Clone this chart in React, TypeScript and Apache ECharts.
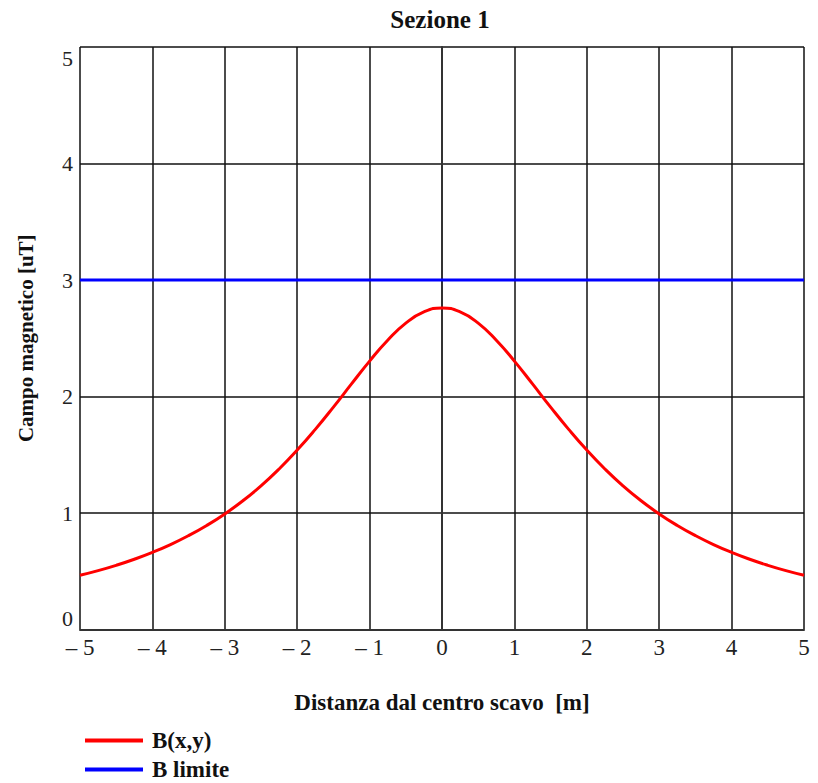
import React, { useEffect, useRef } from "react";
import * as echarts from "echarts";

const xValues = [
  -5, -4.75, -4.5, -4.25, -4, -3.75, -3.5, -3.25, -3, -2.75, -2.5, -2.25, -2, -1.75, -1.5, -1.25, -1, -0.75, -0.5, -0.25,
  0, 0.25, 0.5, 0.75, 1, 1.25, 1.5, 1.75, 2, 2.25, 2.5, 2.75, 3, 3.25, 3.5, 3.75, 4, 4.25, 4.5, 4.75, 5,
];
const bValues = [
  0.465, 0.505, 0.551, 0.603, 0.662, 0.729, 0.806, 0.893, 0.992, 1.105, 1.233, 1.378, 1.54, 1.718, 1.909, 2.108, 2.304, 2.483, 2.63, 2.726,
  2.76, 2.726, 2.63, 2.483, 2.304, 2.108, 1.909, 1.718, 1.54, 1.378, 1.233, 1.105, 0.992, 0.893, 0.806, 0.729, 0.662, 0.603, 0.551, 0.505, 0.465,
];
const limitX = [-5, 5];
const limitValues = [3, 3];

const titleText = "Sezione 1";
const xName = "Distanza dal centro scavo  [m]";
const yName = "Campo magnetico [uT]";
const seriesNames = ["B(x,y)", "B limite"];

const FONT = "'Liberation Serif', 'DejaVu Serif', serif";

export default function App() {
  const ref = useRef<HTMLDivElement>(null);
  useEffect(() => {
    if (!ref.current) return;
    const chart = echarts.init(ref.current, null, { renderer: "svg" });
    chart.setOption({
      animation: false,
      backgroundColor: "#ffffff",
      title: {
        text: titleText,
        left: 440,
        textAlign: "center",
        top: 7,
        padding: 0,
        textStyle: { fontFamily: FONT, fontWeight: "bold", fontSize: 25, color: "#111" },
      },
      legend: {
        orient: "vertical",
        left: 85,
        top: 729,
        padding: 0,
        itemWidth: 58,
        itemHeight: 4,
        itemGap: 6,
        icon: "rect",
        data: seriesNames,
        textStyle: { fontFamily: FONT, fontWeight: "bold", fontSize: 23, color: "#111", padding: [0, 0, 0, 4] },
      },
      grid: { left: 80, right: 14, top: 47, bottom: 153.5, containLabel: false },
      xAxis: {
        type: "value",
        min: -5,
        max: 5,
        interval: 1,
        name: xName,
        nameLocation: "middle",
        nameGap: 61,
        nameTextStyle: { fontFamily: FONT, fontWeight: "bold", fontSize: 23, color: "#111" },
        axisLine: { show: true, onZero: false, lineStyle: { color: "#333", width: 2 } },
        axisTick: { show: false },
        axisLabel: {
          fontFamily: FONT,
          fontSize: 23,
          color: "#222",
          margin: 6,
          formatter: (v: number) => (v < 0 ? "\u2013 " + Math.abs(v) : String(v)),
        },
        splitLine: { show: true, lineStyle: { color: "#111", width: 1.5 } },
      },
      yAxis: {
        type: "value",
        min: 0,
        max: 5,
        interval: 1,
        name: yName,
        nameLocation: "middle",
        nameGap: 44,
        nameTextStyle: { fontFamily: FONT, fontWeight: "bold", fontSize: 21, color: "#111" },
        axisLine: { show: true, lineStyle: { color: "#333", width: 2 } },
        axisTick: { show: false },
        axisLabel: {
          fontFamily: FONT,
          fontSize: 22,
          color: "#222",
          margin: 7,
          verticalAlignMinLabel: "bottom",
          verticalAlignMaxLabel: "top",
        },
        splitLine: { show: true, lineStyle: { color: "#111", width: 1.5 } },
      },
      series: [
        {
          name: seriesNames[0],
          type: "line",
          smooth: true,
          showSymbol: false,
          symbol: "none",
          data: xValues.map((x, i) => [x, bValues[i]]),
          lineStyle: { color: "#ff0000", width: 3 },
          itemStyle: { color: "#ff0000" },
          z: 3,
        },
        {
          name: seriesNames[1],
          type: "line",
          showSymbol: false,
          symbol: "none",
          data: limitX.map((x, i) => [x, limitValues[i]]),
          lineStyle: { color: "#0000ff", width: 3 },
          itemStyle: { color: "#0000ff" },
          z: 4,
        },
      ],
    });
    return () => chart.dispose();
  }, []);
  return (
    <div
      ref={ref}
      style={{ position: "absolute", left: 0, top: 0, width: 818, height: 783, background: "#fff" }}
    />
  );
}
